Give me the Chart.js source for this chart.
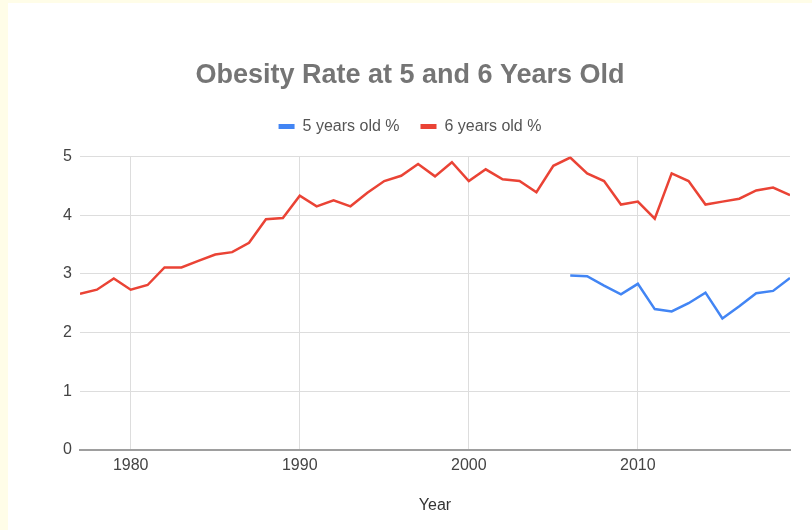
<!DOCTYPE html>
<html>
<head>
<meta charset="utf-8">
<script src="https://cdn.jsdelivr.net/npm/chart.js@4.4.0/dist/chart.umd.min.js"></script>
<style>
  html, body { margin: 0; padding: 0; background: #fffde8; }
  #frame { position: absolute; left: 8px; top: 3px; width: 804px; height: 527px; background: #ffffff; }
  #graphCanvas { display: block; }
</style>
</head>
<body>
<div id="frame"><canvas id="graphCanvas" width="804" height="527"></canvas></div>
<script>
var years = [1977, 1978, 1979, 1980, 1981, 1982, 1983, 1984, 1985, 1986,
             1987, 1988, 1989, 1990, 1991, 1992, 1993, 1994, 1995, 1996,
             1997, 1998, 1999, 2000, 2001, 2002, 2003, 2004, 2005, 2006,
             2007, 2008, 2009, 2010, 2011, 2012, 2013, 2014, 2015, 2016,
             2017, 2018, 2019];

// 6 years old, whole range
var sixYears = [2.66, 2.73, 2.92, 2.73, 2.81, 3.11, 3.11, 3.22, 3.33, 3.37,
                3.53, 3.93, 3.95, 4.33, 4.15, 4.25, 4.15, 4.38, 4.58, 4.67,
                4.87, 4.66, 4.90, 4.58, 4.78, 4.61, 4.58, 4.39, 4.84, 4.98,
                4.71, 4.58, 4.18, 4.23, 3.94, 4.71, 4.58, 4.18, 4.23, 4.28,
                4.42, 4.47, 4.34];

// 5 years old, only from 2006
var fiveYears = [null, null, null, null, null, null, null, null, null, null,
                 null, null, null, null, null, null, null, null, null, null,
                 null, null, null, null, null, null, null, null, null, 2.97,
                 2.96, 2.80, 2.65, 2.83, 2.40, 2.36, 2.50, 2.68, 2.24, 2.45,
                 2.67, 2.71, 2.93];

var xTicks = [1980, 1990, 2000, 2010];
var yTicks = [0, 1, 2, 3, 4, 5];

function toPoints(vals) {
    var pts = [];
    for (var i in years) {
        pts.push({x: years[i], y: vals[i]});
    }
    return pts;
}

var font = "'Liberation Sans', Arial, sans-serif";

var chartdata = {
    datasets: [
        {
            label: '5 years old %',
            data: toPoints(fiveYears),
            borderColor: '#4285f4',
            backgroundColor: '#4285f4',
            borderWidth: 2.5,
            pointRadius: 0,
            tension: 0,
            spanGaps: false
        },
        {
            label: '6 years old %',
            data: toPoints(sixYears),
            borderColor: '#ea4335',
            backgroundColor: '#ea4335',
            borderWidth: 2.5,
            pointRadius: 0,
            tension: 0
        }
    ]
};

var graph = new Chart(document.getElementById('graphCanvas'), {
    type: 'line',
    data: chartdata,
    options: {
        responsive: false,
        animation: false,
        events: [],
        layout: { padding: { top: 0, right: 22, bottom: 0, left: 22 } },
        plugins: {
            title: {
                display: true,
                text: 'Obesity Rate at 5 and 6 Years Old',
                color: '#757575',
                font: { family: font, size: 27, weight: 'bold' },
                padding: { top: 56, bottom: 6 }
            },
            legend: {
                labels: {
                    color: '#555555',
                    font: { family: font, size: 16 },
                    boxWidth: 16,
                    boxHeight: 5,
                    padding: 21,
                    generateLabels: function (chart) {
                        var items = Chart.defaults.plugins.legend.labels.generateLabels(chart);
                        items.forEach(function (it) { it.lineWidth = 0; });
                        return items;
                    }
                }
            },
            tooltip: { enabled: false }
        },
        scales: {
            x: {
                type: 'linear',
                min: 1977,
                max: 2019,
                afterBuildTicks: function (scale) {
                    scale.ticks = xTicks.map(function (v) { return {value: v}; });
                },
                afterFit: function (scale) { scale.height = 80; },
                ticks: {
                    color: '#444444',
                    font: { family: font, size: 16 },
                    padding: 6,
                    maxRotation: 0,
                    callback: function (v) { return String(v); }
                },
                grid: { color: '#dddddd', lineWidth: 1, drawTicks: false },
                border: { display: true, color: '#9e9e9e', width: 2 },
                title: {
                    display: true,
                    text: 'Year',
                    color: '#333333',
                    font: { family: font, size: 16 },
                    padding: { top: 4, bottom: 15 }
                }
            },
            // empty strip between the legend and the plot
            gap: {
                type: 'linear',
                position: 'top',
                display: true,
                ticks: { display: false },
                grid: { display: false },
                border: { display: false },
                afterFit: function (scale) { scale.height = 12; }
            },
            y: {
                min: 0,
                max: 5,
                afterBuildTicks: function (scale) {
                    scale.ticks = yTicks.map(function (v) { return {value: v}; });
                },
                afterFit: function (scale) { scale.width = 50; },
                ticks: {
                    color: '#444444',
                    font: { family: font, size: 16 },
                    padding: 8
                },
                grid: {
                    color: function (c) { return c.tick && c.tick.value === 0 ? '#9e9e9e' : '#dddddd'; },
                    lineWidth: function (c) { return c.tick && c.tick.value === 0 ? 2 : 1; },
                    drawTicks: false
                },
                border: { display: false }
            }
        }
    }
});
</script>
</body>
</html>
